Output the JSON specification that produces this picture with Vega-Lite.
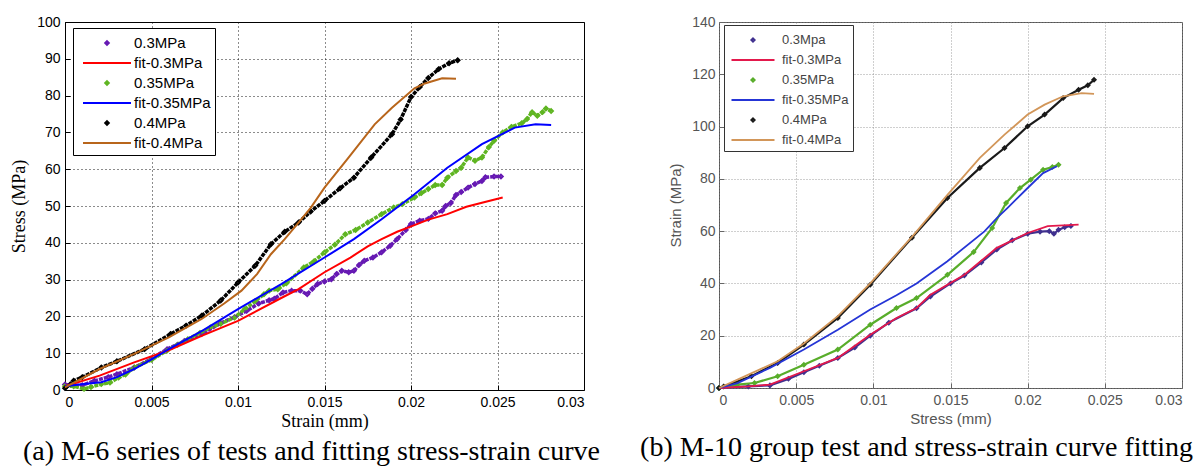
{
  "$schema": "https://vega.github.io/schema/vega-lite/v6.json",
  "background": "#ffffff",
  "padding": {"left": 10, "top": 14, "right": 0, "bottom": 0},
  "spacing": 38,
  "resolve": {"scale": {"color": "independent", "shape": "independent", "x": "independent", "y": "independent"}, "legend": {"color": "independent", "shape": "independent"}},
  "hconcat": [
    {
      "width": 519,
      "height": 368,
      "view": {"stroke": "#000", "strokeWidth": 1},
      "title": {"text": "(a) M-6 series of tests and fitting stress-strain curve", "orient": "bottom", "anchor": "middle", "dx": -13, "offset": 8, "font": "Liberation Serif", "fontSize": 28, "fontWeight": "normal", "color": "#000"},
      "data": {"values": [
        {"series": "0.3MPa", "kind": "test", "strain": 0, "stress": 1.5},
        {"series": "0.3MPa", "kind": "test", "strain": 0.0005, "stress": 1.2},
        {"series": "0.3MPa", "kind": "test", "strain": 0.001, "stress": 1.3},
        {"series": "0.3MPa", "kind": "test", "strain": 0.0017, "stress": 2.5},
        {"series": "0.3MPa", "kind": "test", "strain": 0.0025, "stress": 3.5},
        {"series": "0.3MPa", "kind": "test", "strain": 0.003, "stress": 4.3},
        {"series": "0.3MPa", "kind": "test", "strain": 0.004, "stress": 6.1},
        {"series": "0.3MPa", "kind": "test", "strain": 0.005, "stress": 8.5},
        {"series": "0.3MPa", "kind": "test", "strain": 0.0059, "stress": 11.1},
        {"series": "0.3MPa", "kind": "test", "strain": 0.0069, "stress": 13.3},
        {"series": "0.3MPa", "kind": "test", "strain": 0.0079, "stress": 15.2},
        {"series": "0.3MPa", "kind": "test", "strain": 0.009, "stress": 18.2},
        {"series": "0.3MPa", "kind": "test", "strain": 0.0098, "stress": 19.8},
        {"series": "0.3MPa", "kind": "test", "strain": 0.0105, "stress": 21.5},
        {"series": "0.3MPa", "kind": "test", "strain": 0.0112, "stress": 23.5},
        {"series": "0.3MPa", "kind": "test", "strain": 0.0118, "stress": 24.4},
        {"series": "0.3MPa", "kind": "test", "strain": 0.0121, "stress": 24.8},
        {"series": "0.3MPa", "kind": "test", "strain": 0.0126, "stress": 26.5},
        {"series": "0.3MPa", "kind": "test", "strain": 0.0131, "stress": 27.0},
        {"series": "0.3MPa", "kind": "test", "strain": 0.0136, "stress": 27.0},
        {"series": "0.3MPa", "kind": "test", "strain": 0.014, "stress": 26.0},
        {"series": "0.3MPa", "kind": "test", "strain": 0.0143, "stress": 27.5},
        {"series": "0.3MPa", "kind": "test", "strain": 0.0146, "stress": 28.8},
        {"series": "0.3MPa", "kind": "test", "strain": 0.015, "stress": 29.5},
        {"series": "0.3MPa", "kind": "test", "strain": 0.0154, "stress": 30.1},
        {"series": "0.3MPa", "kind": "test", "strain": 0.0157, "stress": 31.5},
        {"series": "0.3MPa", "kind": "test", "strain": 0.016, "stress": 32.4},
        {"series": "0.3MPa", "kind": "test", "strain": 0.0164, "stress": 32.0},
        {"series": "0.3MPa", "kind": "test", "strain": 0.0167, "stress": 32.4},
        {"series": "0.3MPa", "kind": "test", "strain": 0.017, "stress": 34.0},
        {"series": "0.3MPa", "kind": "test", "strain": 0.0173, "stress": 35.1},
        {"series": "0.3MPa", "kind": "test", "strain": 0.0178, "stress": 36.0},
        {"series": "0.3MPa", "kind": "test", "strain": 0.0183, "stress": 37.4},
        {"series": "0.3MPa", "kind": "test", "strain": 0.0188, "stress": 39.2},
        {"series": "0.3MPa", "kind": "test", "strain": 0.0192, "stress": 41.0},
        {"series": "0.3MPa", "kind": "test", "strain": 0.0197, "stress": 43.5},
        {"series": "0.3MPa", "kind": "test", "strain": 0.02, "stress": 45.1},
        {"series": "0.3MPa", "kind": "test", "strain": 0.0205, "stress": 46.0},
        {"series": "0.3MPa", "kind": "test", "strain": 0.021, "stress": 46.5},
        {"series": "0.3MPa", "kind": "test", "strain": 0.0214, "stress": 48.0},
        {"series": "0.3MPa", "kind": "test", "strain": 0.0218, "stress": 48.7},
        {"series": "0.3MPa", "kind": "test", "strain": 0.022, "stress": 50.0},
        {"series": "0.3MPa", "kind": "test", "strain": 0.0223, "stress": 50.8},
        {"series": "0.3MPa", "kind": "test", "strain": 0.0226, "stress": 53.0},
        {"series": "0.3MPa", "kind": "test", "strain": 0.0229, "stress": 53.8},
        {"series": "0.3MPa", "kind": "test", "strain": 0.0233, "stress": 55.0},
        {"series": "0.3MPa", "kind": "test", "strain": 0.0237, "stress": 56.0},
        {"series": "0.3MPa", "kind": "test", "strain": 0.0241, "stress": 56.8},
        {"series": "0.3MPa", "kind": "test", "strain": 0.0243, "stress": 57.8},
        {"series": "0.3MPa", "kind": "test", "strain": 0.0248, "stress": 58.0},
        {"series": "0.3MPa", "kind": "test", "strain": 0.0252, "stress": 58.0},
        {"series": "fit-0.3MPa", "kind": "fit", "strain": 0, "stress": 1.0},
        {"series": "fit-0.3MPa", "kind": "fit", "strain": 0.002, "stress": 3.9},
        {"series": "fit-0.3MPa", "kind": "fit", "strain": 0.004, "stress": 7.5},
        {"series": "fit-0.3MPa", "kind": "fit", "strain": 0.006, "stress": 10.8},
        {"series": "fit-0.3MPa", "kind": "fit", "strain": 0.008, "stress": 14.9},
        {"series": "fit-0.3MPa", "kind": "fit", "strain": 0.01, "stress": 18.8},
        {"series": "fit-0.3MPa", "kind": "fit", "strain": 0.0125, "stress": 25.0},
        {"series": "fit-0.3MPa", "kind": "fit", "strain": 0.0135, "stress": 27.4},
        {"series": "fit-0.3MPa", "kind": "fit", "strain": 0.015, "stress": 32.0},
        {"series": "fit-0.3MPa", "kind": "fit", "strain": 0.0165, "stress": 36.0},
        {"series": "fit-0.3MPa", "kind": "fit", "strain": 0.0175, "stress": 39.0},
        {"series": "fit-0.3MPa", "kind": "fit", "strain": 0.0183, "stress": 41.0},
        {"series": "fit-0.3MPa", "kind": "fit", "strain": 0.0192, "stress": 43.0},
        {"series": "fit-0.3MPa", "kind": "fit", "strain": 0.0202, "stress": 44.8},
        {"series": "fit-0.3MPa", "kind": "fit", "strain": 0.021, "stress": 46.3},
        {"series": "fit-0.3MPa", "kind": "fit", "strain": 0.0221, "stress": 47.8},
        {"series": "fit-0.3MPa", "kind": "fit", "strain": 0.0232, "stress": 49.8},
        {"series": "fit-0.3MPa", "kind": "fit", "strain": 0.0241, "stress": 50.9},
        {"series": "fit-0.3MPa", "kind": "fit", "strain": 0.0253, "stress": 52.3},
        {"series": "0.35MPa", "kind": "test", "strain": 0, "stress": 1.0},
        {"series": "0.35MPa", "kind": "test", "strain": 0.0005, "stress": 1.0},
        {"series": "0.35MPa", "kind": "test", "strain": 0.0011, "stress": 0.3},
        {"series": "0.35MPa", "kind": "test", "strain": 0.0015, "stress": 0.8},
        {"series": "0.35MPa", "kind": "test", "strain": 0.0021, "stress": 1.6},
        {"series": "0.35MPa", "kind": "test", "strain": 0.0026, "stress": 2.0},
        {"series": "0.35MPa", "kind": "test", "strain": 0.0031, "stress": 3.4},
        {"series": "0.35MPa", "kind": "test", "strain": 0.0035, "stress": 4.2},
        {"series": "0.35MPa", "kind": "test", "strain": 0.004, "stress": 6.1},
        {"series": "0.35MPa", "kind": "test", "strain": 0.005, "stress": 8.2},
        {"series": "0.35MPa", "kind": "test", "strain": 0.0059, "stress": 10.7},
        {"series": "0.35MPa", "kind": "test", "strain": 0.0065, "stress": 12.3},
        {"series": "0.35MPa", "kind": "test", "strain": 0.0071, "stress": 13.8},
        {"series": "0.35MPa", "kind": "test", "strain": 0.0078, "stress": 15.5},
        {"series": "0.35MPa", "kind": "test", "strain": 0.0084, "stress": 17.0},
        {"series": "0.35MPa", "kind": "test", "strain": 0.009, "stress": 18.0},
        {"series": "0.35MPa", "kind": "test", "strain": 0.0098, "stress": 19.7},
        {"series": "0.35MPa", "kind": "test", "strain": 0.0104, "stress": 22.0},
        {"series": "0.35MPa", "kind": "test", "strain": 0.011, "stress": 24.2},
        {"series": "0.35MPa", "kind": "test", "strain": 0.0115, "stress": 26.0},
        {"series": "0.35MPa", "kind": "test", "strain": 0.0118, "stress": 27.0},
        {"series": "0.35MPa", "kind": "test", "strain": 0.0123, "stress": 27.4},
        {"series": "0.35MPa", "kind": "test", "strain": 0.0128, "stress": 29.0},
        {"series": "0.35MPa", "kind": "test", "strain": 0.0138, "stress": 33.3},
        {"series": "0.35MPa", "kind": "test", "strain": 0.0144, "stress": 35.0},
        {"series": "0.35MPa", "kind": "test", "strain": 0.015, "stress": 37.4},
        {"series": "0.35MPa", "kind": "test", "strain": 0.0156, "stress": 39.5},
        {"series": "0.35MPa", "kind": "test", "strain": 0.0162, "stress": 42.3},
        {"series": "0.35MPa", "kind": "test", "strain": 0.0168, "stress": 43.5},
        {"series": "0.35MPa", "kind": "test", "strain": 0.0175, "stress": 45.5},
        {"series": "0.35MPa", "kind": "test", "strain": 0.0183, "stress": 47.8},
        {"series": "0.35MPa", "kind": "test", "strain": 0.019, "stress": 49.6},
        {"series": "0.35MPa", "kind": "test", "strain": 0.0195, "stress": 50.5},
        {"series": "0.35MPa", "kind": "test", "strain": 0.0202, "stress": 52.3},
        {"series": "0.35MPa", "kind": "test", "strain": 0.0206, "stress": 53.5},
        {"series": "0.35MPa", "kind": "test", "strain": 0.021, "stress": 54.6},
        {"series": "0.35MPa", "kind": "test", "strain": 0.0214, "stress": 55.7},
        {"series": "0.35MPa", "kind": "test", "strain": 0.0218, "stress": 55.7},
        {"series": "0.35MPa", "kind": "test", "strain": 0.0221, "stress": 57.7},
        {"series": "0.35MPa", "kind": "test", "strain": 0.0226, "stress": 59.5},
        {"series": "0.35MPa", "kind": "test", "strain": 0.0229, "stress": 60.4},
        {"series": "0.35MPa", "kind": "test", "strain": 0.0233, "stress": 63.2},
        {"series": "0.35MPa", "kind": "test", "strain": 0.0237, "stress": 62.3},
        {"series": "0.35MPa", "kind": "test", "strain": 0.0241, "stress": 63.2},
        {"series": "0.35MPa", "kind": "test", "strain": 0.0245, "stress": 66.0},
        {"series": "0.35MPa", "kind": "test", "strain": 0.0248, "stress": 67.7},
        {"series": "0.35MPa", "kind": "test", "strain": 0.0253, "stress": 70.0},
        {"series": "0.35MPa", "kind": "test", "strain": 0.0258, "stress": 71.5},
        {"series": "0.35MPa", "kind": "test", "strain": 0.0264, "stress": 72.5},
        {"series": "0.35MPa", "kind": "test", "strain": 0.0267, "stress": 73.6},
        {"series": "0.35MPa", "kind": "test", "strain": 0.027, "stress": 75.5},
        {"series": "0.35MPa", "kind": "test", "strain": 0.0273, "stress": 74.5},
        {"series": "0.35MPa", "kind": "test", "strain": 0.0276, "stress": 75.5},
        {"series": "0.35MPa", "kind": "test", "strain": 0.0278, "stress": 76.5},
        {"series": "0.35MPa", "kind": "test", "strain": 0.0281, "stress": 75.8},
        {"series": "fit-0.35MPa", "kind": "fit", "strain": 0, "stress": 1.0},
        {"series": "fit-0.35MPa", "kind": "fit", "strain": 0.0011, "stress": 1.6},
        {"series": "fit-0.35MPa", "kind": "fit", "strain": 0.0021, "stress": 2.1},
        {"series": "fit-0.35MPa", "kind": "fit", "strain": 0.003, "stress": 3.5},
        {"series": "fit-0.35MPa", "kind": "fit", "strain": 0.004, "stress": 5.7},
        {"series": "fit-0.35MPa", "kind": "fit", "strain": 0.005, "stress": 8.3},
        {"series": "fit-0.35MPa", "kind": "fit", "strain": 0.006, "stress": 11.1},
        {"series": "fit-0.35MPa", "kind": "fit", "strain": 0.008, "stress": 16.3},
        {"series": "fit-0.35MPa", "kind": "fit", "strain": 0.01, "stress": 22.0},
        {"series": "fit-0.35MPa", "kind": "fit", "strain": 0.0125, "stress": 28.8},
        {"series": "fit-0.35MPa", "kind": "fit", "strain": 0.015, "stress": 36.0},
        {"series": "fit-0.35MPa", "kind": "fit", "strain": 0.0167, "stress": 41.0},
        {"series": "fit-0.35MPa", "kind": "fit", "strain": 0.0183, "stress": 46.4},
        {"series": "fit-0.35MPa", "kind": "fit", "strain": 0.0202, "stress": 53.2},
        {"series": "fit-0.35MPa", "kind": "fit", "strain": 0.0221, "stress": 60.4},
        {"series": "fit-0.35MPa", "kind": "fit", "strain": 0.0241, "stress": 66.8},
        {"series": "fit-0.35MPa", "kind": "fit", "strain": 0.026, "stress": 71.3},
        {"series": "fit-0.35MPa", "kind": "fit", "strain": 0.0272, "stress": 72.2},
        {"series": "fit-0.35MPa", "kind": "fit", "strain": 0.0281, "stress": 72.0},
        {"series": "0.4MPa", "kind": "test", "strain": 0, "stress": 0.5},
        {"series": "0.4MPa", "kind": "test", "strain": 0.0003, "stress": 1.5},
        {"series": "0.4MPa", "kind": "test", "strain": 0.0005, "stress": 2.5},
        {"series": "0.4MPa", "kind": "test", "strain": 0.001, "stress": 3.5},
        {"series": "0.4MPa", "kind": "test", "strain": 0.0021, "stress": 6.1},
        {"series": "0.4MPa", "kind": "test", "strain": 0.003, "stress": 7.8},
        {"series": "0.4MPa", "kind": "test", "strain": 0.0046, "stress": 11.1},
        {"series": "0.4MPa", "kind": "test", "strain": 0.0061, "stress": 15.2},
        {"series": "0.4MPa", "kind": "test", "strain": 0.007, "stress": 17.5},
        {"series": "0.4MPa", "kind": "test", "strain": 0.0079, "stress": 20.2},
        {"series": "0.4MPa", "kind": "test", "strain": 0.009, "stress": 24.3},
        {"series": "0.4MPa", "kind": "test", "strain": 0.01, "stress": 29.2},
        {"series": "0.4MPa", "kind": "test", "strain": 0.011, "stress": 33.8},
        {"series": "0.4MPa", "kind": "test", "strain": 0.0119, "stress": 39.6},
        {"series": "0.4MPa", "kind": "test", "strain": 0.0127, "stress": 43.0},
        {"series": "0.4MPa", "kind": "test", "strain": 0.0135, "stress": 45.5},
        {"series": "0.4MPa", "kind": "test", "strain": 0.0142, "stress": 48.5},
        {"series": "0.4MPa", "kind": "test", "strain": 0.015, "stress": 51.4},
        {"series": "0.4MPa", "kind": "test", "strain": 0.0159, "stress": 54.8},
        {"series": "0.4MPa", "kind": "test", "strain": 0.0167, "stress": 57.7},
        {"series": "0.4MPa", "kind": "test", "strain": 0.0177, "stress": 63.2},
        {"series": "0.4MPa", "kind": "test", "strain": 0.0189, "stress": 69.5},
        {"series": "0.4MPa", "kind": "test", "strain": 0.0194, "stress": 73.5},
        {"series": "0.4MPa", "kind": "test", "strain": 0.02, "stress": 79.6},
        {"series": "0.4MPa", "kind": "test", "strain": 0.0205, "stress": 82.3},
        {"series": "0.4MPa", "kind": "test", "strain": 0.021, "stress": 84.8},
        {"series": "0.4MPa", "kind": "test", "strain": 0.0216, "stress": 87.2},
        {"series": "0.4MPa", "kind": "test", "strain": 0.0222, "stress": 88.8},
        {"series": "0.4MPa", "kind": "test", "strain": 0.0227, "stress": 89.6},
        {"series": "fit-0.4MPa", "kind": "fit", "strain": 0, "stress": 0.7},
        {"series": "fit-0.4MPa", "kind": "fit", "strain": 0.002, "stress": 5.7},
        {"series": "fit-0.4MPa", "kind": "fit", "strain": 0.004, "stress": 9.8},
        {"series": "fit-0.4MPa", "kind": "fit", "strain": 0.006, "stress": 14.3},
        {"series": "fit-0.4MPa", "kind": "fit", "strain": 0.0079, "stress": 19.3},
        {"series": "fit-0.4MPa", "kind": "fit", "strain": 0.0092, "stress": 23.5},
        {"series": "fit-0.4MPa", "kind": "fit", "strain": 0.0102, "stress": 27.0},
        {"series": "fit-0.4MPa", "kind": "fit", "strain": 0.0111, "stress": 31.5},
        {"series": "fit-0.4MPa", "kind": "fit", "strain": 0.0119, "stress": 36.9},
        {"series": "fit-0.4MPa", "kind": "fit", "strain": 0.0127, "stress": 41.0},
        {"series": "fit-0.4MPa", "kind": "fit", "strain": 0.0135, "stress": 45.5},
        {"series": "fit-0.4MPa", "kind": "fit", "strain": 0.0142, "stress": 49.5},
        {"series": "fit-0.4MPa", "kind": "fit", "strain": 0.015, "stress": 55.0},
        {"series": "fit-0.4MPa", "kind": "fit", "strain": 0.0164, "stress": 63.2},
        {"series": "fit-0.4MPa", "kind": "fit", "strain": 0.0179, "stress": 72.2},
        {"series": "fit-0.4MPa", "kind": "fit", "strain": 0.0189, "stress": 76.7},
        {"series": "fit-0.4MPa", "kind": "fit", "strain": 0.0202, "stress": 82.0},
        {"series": "fit-0.4MPa", "kind": "fit", "strain": 0.0208, "stress": 83.3},
        {"series": "fit-0.4MPa", "kind": "fit", "strain": 0.0218, "stress": 84.7},
        {"series": "fit-0.4MPa", "kind": "fit", "strain": 0.0226, "stress": 84.6}
      ]},
      "encoding": {
        "x": {"field": "strain", "type": "quantitative", "scale": {"domain": [0, 0.03], "nice": false},
          "axis": {"title": "Strain (mm)", "values": [0, 0.005, 0.01, 0.015, 0.02, 0.025, 0.03], "format": "~g", "grid": true, "gridDash": [1, 3], "gridColor": "#000", "gridOpacity": 0.9, "domain": false, "tickSize": -5, "tickColor": "#000", "labelPadding": 10, "labelFont": "Liberation Sans", "labelFontSize": 14, "labelColor": "#000", "titleFont": "Liberation Serif", "titleFontSize": 18, "titleFontWeight": "normal", "titleColor": "#000", "titlePadding": 3}},
        "y": {"field": "stress", "type": "quantitative", "scale": {"domain": [0, 100], "nice": false},
          "axis": {"title": "Stress (MPa)", "values": [0, 10, 20, 30, 40, 50, 60, 70, 80, 90, 100], "grid": true, "gridDash": [1, 3], "gridColor": "#000", "gridOpacity": 0.9, "domain": false, "tickSize": -5, "tickColor": "#000", "labelPadding": 10, "labelFont": "Liberation Sans", "labelFontSize": 14, "labelColor": "#000", "titleFont": "Liberation Serif", "titleFontSize": 18, "titleFontWeight": "normal", "titleColor": "#000", "titlePadding": 8}}
      },
      "layer": [
        {
          "transform": [{"filter": "datum.kind == 'test'"}],
          "mark": {"type": "point", "filled": false, "strokeWidth": 2, "size": 400, "opacity": 1},
          "encoding": {
            "color": {"field": "series", "type": "nominal",
              "scale": {"domain": ["0.3MPa", "fit-0.3MPa", "0.35MPa", "fit-0.35MPa", "0.4MPa", "fit-0.4MPa"], "range": ["#6619b3", "#ff0000", "#5fb522", "#0000ff", "#000000", "#b8651b"]},
              "legend": {"orient": "none", "legendX": 8, "legendY": 6, "title": null, "strokeColor": "#000", "fillColor": "#fff", "padding": 4, "symbolSize": 400, "symbolOffset": 19, "labelOffset": 16, "rowPadding": 1, "labelFont": "Liberation Sans", "labelFontSize": 15, "labelColor": "#000", "symbolStrokeWidth": 2}},
            "shape": {"field": "series", "type": "nominal",
              "scale": {"domain": ["0.3MPa", "fit-0.3MPa", "0.35MPa", "fit-0.35MPa", "0.4MPa", "fit-0.4MPa"], "range": ["M0,-0.18L0.18,0L0,0.18L-0.18,0Z", "M-2.4,0L2.4,0", "M0,-0.18L0.18,0L0,0.18L-0.18,0Z", "M-2.4,0L2.4,0", "M0,-0.18L0.18,0L0,0.18L-0.18,0Z", "M-2.4,0L2.4,0"]},
              "legend": {"orient": "none", "legendX": 8, "legendY": 6, "title": null, "strokeColor": "#000", "fillColor": "#fff", "padding": 4, "symbolSize": 400, "symbolOffset": 19, "labelOffset": 16, "rowPadding": 1, "labelFont": "Liberation Sans", "labelFontSize": 15, "labelColor": "#000", "symbolStrokeWidth": 2}}
          }
        },
        {
          "transform": [{"filter": "datum.kind == 'test'"}],
          "mark": {"type": "line", "strokeWidth": 3.5, "strokeDash": [4, 1]},
          "encoding": {"color": {"field": "series", "type": "nominal"}}
        },
        {
          "transform": [{"filter": "datum.kind == 'fit'"}],
          "mark": {"type": "line", "strokeWidth": 2},
          "encoding": {"color": {"field": "series", "type": "nominal"}}
        }
      ]
    },
    {
      "width": 463,
      "height": 366,
      "view": {"stroke": "#555", "strokeWidth": 1},
      "title": {"text": "(b) M-10 group test and stress-strain curve fitting", "orient": "bottom", "anchor": "middle", "dx": -34, "offset": 8, "font": "Liberation Serif", "fontSize": 28, "fontWeight": "normal", "color": "#000"},
      "data": {"values": [
        {"series": "0.3Mpa", "kind": "test", "strain": 0, "stress": 0},
        {"series": "0.3Mpa", "kind": "test", "strain": 0.0019, "stress": 0.6},
        {"series": "0.3Mpa", "kind": "test", "strain": 0.0033, "stress": 1.0},
        {"series": "0.3Mpa", "kind": "test", "strain": 0.0045, "stress": 3.5},
        {"series": "0.3Mpa", "kind": "test", "strain": 0.0055, "stress": 6.0},
        {"series": "0.3Mpa", "kind": "test", "strain": 0.0065, "stress": 8.5},
        {"series": "0.3Mpa", "kind": "test", "strain": 0.0077, "stress": 11.5},
        {"series": "0.3Mpa", "kind": "test", "strain": 0.0088, "stress": 15.5},
        {"series": "0.3Mpa", "kind": "test", "strain": 0.0098, "stress": 20.0},
        {"series": "0.3Mpa", "kind": "test", "strain": 0.011, "stress": 25.0},
        {"series": "0.3Mpa", "kind": "test", "strain": 0.0128, "stress": 30.5},
        {"series": "0.3Mpa", "kind": "test", "strain": 0.0137, "stress": 35.0},
        {"series": "0.3Mpa", "kind": "test", "strain": 0.015, "stress": 40.0},
        {"series": "0.3Mpa", "kind": "test", "strain": 0.0159, "stress": 43.0},
        {"series": "0.3Mpa", "kind": "test", "strain": 0.017, "stress": 48.0},
        {"series": "0.3Mpa", "kind": "test", "strain": 0.018, "stress": 53.0},
        {"series": "0.3Mpa", "kind": "test", "strain": 0.019, "stress": 56.5},
        {"series": "0.3Mpa", "kind": "test", "strain": 0.02, "stress": 59.0},
        {"series": "0.3Mpa", "kind": "test", "strain": 0.0208, "stress": 59.8},
        {"series": "0.3Mpa", "kind": "test", "strain": 0.0214, "stress": 60.0},
        {"series": "0.3Mpa", "kind": "test", "strain": 0.0217, "stress": 59.0},
        {"series": "0.3Mpa", "kind": "test", "strain": 0.022, "stress": 60.5},
        {"series": "0.3Mpa", "kind": "test", "strain": 0.0224, "stress": 61.5},
        {"series": "0.3Mpa", "kind": "test", "strain": 0.0228, "stress": 62.0},
        {"series": "fit-0.3MPa", "kind": "fit", "strain": 0, "stress": 0},
        {"series": "fit-0.3MPa", "kind": "fit", "strain": 0.0019, "stress": 0.6},
        {"series": "fit-0.3MPa", "kind": "fit", "strain": 0.0033, "stress": 1.3},
        {"series": "fit-0.3MPa", "kind": "fit", "strain": 0.0055, "stress": 6.4},
        {"series": "fit-0.3MPa", "kind": "fit", "strain": 0.0077, "stress": 11.5},
        {"series": "fit-0.3MPa", "kind": "fit", "strain": 0.0098, "stress": 20.4},
        {"series": "fit-0.3MPa", "kind": "fit", "strain": 0.0115, "stress": 26.8},
        {"series": "fit-0.3MPa", "kind": "fit", "strain": 0.0128, "stress": 30.6},
        {"series": "fit-0.3MPa", "kind": "fit", "strain": 0.0137, "stress": 35.7},
        {"series": "fit-0.3MPa", "kind": "fit", "strain": 0.0159, "stress": 43.3},
        {"series": "fit-0.3MPa", "kind": "fit", "strain": 0.018, "stress": 53.6},
        {"series": "fit-0.3MPa", "kind": "fit", "strain": 0.02, "stress": 59.3},
        {"series": "fit-0.3MPa", "kind": "fit", "strain": 0.0213, "stress": 61.9},
        {"series": "fit-0.3MPa", "kind": "fit", "strain": 0.0233, "stress": 62.5},
        {"series": "0.35MPa", "kind": "test", "strain": 0, "stress": 0},
        {"series": "0.35MPa", "kind": "test", "strain": 0.0012, "stress": 1.3},
        {"series": "0.35MPa", "kind": "test", "strain": 0.0023, "stress": 1.9},
        {"series": "0.35MPa", "kind": "test", "strain": 0.0038, "stress": 4.5},
        {"series": "0.35MPa", "kind": "test", "strain": 0.0055, "stress": 8.9},
        {"series": "0.35MPa", "kind": "test", "strain": 0.0077, "stress": 14.7},
        {"series": "0.35MPa", "kind": "test", "strain": 0.0098, "stress": 24.2},
        {"series": "0.35MPa", "kind": "test", "strain": 0.0115, "stress": 30.6},
        {"series": "0.35MPa", "kind": "test", "strain": 0.0128, "stress": 34.4},
        {"series": "0.35MPa", "kind": "test", "strain": 0.0148, "stress": 43.3},
        {"series": "0.35MPa", "kind": "test", "strain": 0.0165, "stress": 52.0},
        {"series": "0.35MPa", "kind": "test", "strain": 0.0177, "stress": 61.2},
        {"series": "0.35MPa", "kind": "test", "strain": 0.0186, "stress": 70.8},
        {"series": "0.35MPa", "kind": "test", "strain": 0.0195, "stress": 76.5},
        {"series": "0.35MPa", "kind": "test", "strain": 0.0202, "stress": 79.7},
        {"series": "0.35MPa", "kind": "test", "strain": 0.021, "stress": 83.5},
        {"series": "0.35MPa", "kind": "test", "strain": 0.0216, "stress": 84.5},
        {"series": "0.35MPa", "kind": "test", "strain": 0.022, "stress": 85.4},
        {"series": "fit-0.35MPa", "kind": "fit", "strain": 0, "stress": 0},
        {"series": "fit-0.35MPa", "kind": "fit", "strain": 0.0012, "stress": 1.9},
        {"series": "fit-0.35MPa", "kind": "fit", "strain": 0.0033, "stress": 7.7},
        {"series": "fit-0.35MPa", "kind": "fit", "strain": 0.0055, "stress": 14.7},
        {"series": "fit-0.35MPa", "kind": "fit", "strain": 0.0077, "stress": 22.3},
        {"series": "fit-0.35MPa", "kind": "fit", "strain": 0.0098, "stress": 30.0},
        {"series": "fit-0.35MPa", "kind": "fit", "strain": 0.0115, "stress": 35.5},
        {"series": "fit-0.35MPa", "kind": "fit", "strain": 0.0128, "stress": 40.0},
        {"series": "fit-0.35MPa", "kind": "fit", "strain": 0.0148, "stress": 48.5},
        {"series": "fit-0.35MPa", "kind": "fit", "strain": 0.0172, "stress": 59.9},
        {"series": "fit-0.35MPa", "kind": "fit", "strain": 0.018, "stress": 65.0},
        {"series": "fit-0.35MPa", "kind": "fit", "strain": 0.0187, "stress": 68.9},
        {"series": "fit-0.35MPa", "kind": "fit", "strain": 0.02, "stress": 76.5},
        {"series": "fit-0.35MPa", "kind": "fit", "strain": 0.021, "stress": 82.2},
        {"series": "fit-0.35MPa", "kind": "fit", "strain": 0.0219, "stress": 84.8},
        {"series": "0.4MPa", "kind": "test", "strain": 0, "stress": 0},
        {"series": "0.4MPa", "kind": "test", "strain": 0.0003, "stress": 0.6},
        {"series": "0.4MPa", "kind": "test", "strain": 0.0021, "stress": 4.5},
        {"series": "0.4MPa", "kind": "test", "strain": 0.0038, "stress": 9.6},
        {"series": "0.4MPa", "kind": "test", "strain": 0.0055, "stress": 16.6},
        {"series": "0.4MPa", "kind": "test", "strain": 0.0077, "stress": 26.8},
        {"series": "0.4MPa", "kind": "test", "strain": 0.0098, "stress": 39.5},
        {"series": "0.4MPa", "kind": "test", "strain": 0.0125, "stress": 57.5},
        {"series": "0.4MPa", "kind": "test", "strain": 0.0148, "stress": 72.7},
        {"series": "0.4MPa", "kind": "test", "strain": 0.0169, "stress": 84.2},
        {"series": "0.4MPa", "kind": "test", "strain": 0.0185, "stress": 91.8},
        {"series": "0.4MPa", "kind": "test", "strain": 0.02, "stress": 100.1},
        {"series": "0.4MPa", "kind": "test", "strain": 0.0211, "stress": 104.6},
        {"series": "0.4MPa", "kind": "test", "strain": 0.0223, "stress": 110.9},
        {"series": "0.4MPa", "kind": "test", "strain": 0.0233, "stress": 114.1},
        {"series": "0.4MPa", "kind": "test", "strain": 0.0239, "stress": 115.8},
        {"series": "0.4MPa", "kind": "test", "strain": 0.0243, "stress": 117.9},
        {"series": "fit-0.4MPa", "kind": "fit", "strain": 0, "stress": 0},
        {"series": "fit-0.4MPa", "kind": "fit", "strain": 0.0012, "stress": 3.2},
        {"series": "fit-0.4MPa", "kind": "fit", "strain": 0.0038, "stress": 10.2},
        {"series": "fit-0.4MPa", "kind": "fit", "strain": 0.0055, "stress": 17.0},
        {"series": "fit-0.4MPa", "kind": "fit", "strain": 0.0077, "stress": 27.5},
        {"series": "fit-0.4MPa", "kind": "fit", "strain": 0.0098, "stress": 40.0},
        {"series": "fit-0.4MPa", "kind": "fit", "strain": 0.0126, "stress": 58.5},
        {"series": "fit-0.4MPa", "kind": "fit", "strain": 0.0148, "stress": 73.9},
        {"series": "fit-0.4MPa", "kind": "fit", "strain": 0.0169, "stress": 88.0},
        {"series": "fit-0.4MPa", "kind": "fit", "strain": 0.0185, "stress": 96.9},
        {"series": "fit-0.4MPa", "kind": "fit", "strain": 0.02, "stress": 104.6},
        {"series": "fit-0.4MPa", "kind": "fit", "strain": 0.0211, "stress": 108.4},
        {"series": "fit-0.4MPa", "kind": "fit", "strain": 0.0223, "stress": 111.6},
        {"series": "fit-0.4MPa", "kind": "fit", "strain": 0.0235, "stress": 112.8},
        {"series": "fit-0.4MPa", "kind": "fit", "strain": 0.0243, "stress": 112.5}
      ]},
      "encoding": {
        "x": {"field": "strain", "type": "quantitative", "scale": {"domain": [0, 0.03], "nice": false},
          "axis": {"title": "Stress (mm)", "values": [0, 0.005, 0.01, 0.015, 0.02, 0.025, 0.03], "format": "~g", "grid": true, "gridDash": [1, 2], "gridColor": "#888", "gridOpacity": 0.8, "domain": false, "tickSize": -5, "tickColor": "#666", "labelPadding": 10, "labelFont": "Liberation Sans", "labelFontSize": 14, "labelColor": "#555", "titleFont": "Liberation Sans", "titleFontSize": 15, "titleFontWeight": "normal", "titleColor": "#555", "titlePadding": 4}},
        "y": {"field": "stress", "type": "quantitative", "scale": {"domain": [0, 140], "nice": false},
          "axis": {"title": "Strain (MPa)", "values": [0, 20, 40, 60, 80, 100, 120, 140], "grid": true, "gridDash": [1, 2], "gridColor": "#888", "gridOpacity": 0.8, "domain": false, "tickSize": -5, "tickColor": "#666", "labelPadding": 9, "labelFont": "Liberation Sans", "labelFontSize": 14, "labelColor": "#555", "titleFont": "Liberation Sans", "titleFontSize": 15, "titleFontWeight": "normal", "titleColor": "#555", "titlePadding": 8}}
      },
      "layer": [
        {
          "transform": [{"filter": "datum.kind == 'test'"}],
          "mark": {"type": "point", "filled": false, "strokeWidth": 2, "size": 400, "opacity": 1},
          "encoding": {
            "color": {"field": "series", "type": "nominal",
              "scale": {"domain": ["0.3Mpa", "fit-0.3MPa", "0.35MPa", "fit-0.35MPa", "0.4MPa", "fit-0.4MPa"], "range": ["#40308f", "#e3194c", "#58ad2a", "#2535d6", "#1a1a1a", "#d29659"]},
              "legend": {"orient": "none", "legendX": 5, "legendY": 3, "title": null, "strokeColor": "#333", "fillColor": "#fff", "padding": 4, "symbolSize": 400, "symbolOffset": 14, "labelOffset": 18, "rowPadding": 2, "labelFont": "Liberation Sans", "labelFontSize": 13, "labelColor": "#444", "symbolStrokeWidth": 2}},
            "shape": {"field": "series", "type": "nominal",
              "scale": {"domain": ["0.3Mpa", "fit-0.3MPa", "0.35MPa", "fit-0.35MPa", "0.4MPa", "fit-0.4MPa"], "range": ["M0,-0.16L0.16,0L0,0.16L-0.16,0Z", "M-2.15,0L2.15,0", "M0,-0.16L0.16,0L0,0.16L-0.16,0Z", "M-2.15,0L2.15,0", "M0,-0.16L0.16,0L0,0.16L-0.16,0Z", "M-2.15,0L2.15,0"]},
              "legend": {"orient": "none", "legendX": 5, "legendY": 3, "title": null, "strokeColor": "#333", "fillColor": "#fff", "padding": 4, "symbolSize": 400, "symbolOffset": 14, "labelOffset": 18, "rowPadding": 2, "labelFont": "Liberation Sans", "labelFontSize": 13, "labelColor": "#444", "symbolStrokeWidth": 2}}
          }
        },
        {
          "transform": [{"filter": "datum.kind == 'test'"}],
          "mark": {"type": "line", "strokeWidth": 2.2},
          "encoding": {"color": {"field": "series", "type": "nominal"}}
        },
        {
          "transform": [{"filter": "datum.kind == 'fit'"}],
          "mark": {"type": "line", "strokeWidth": 1.8},
          "encoding": {"color": {"field": "series", "type": "nominal"}}
        }
      ]
    }
  ]
}
